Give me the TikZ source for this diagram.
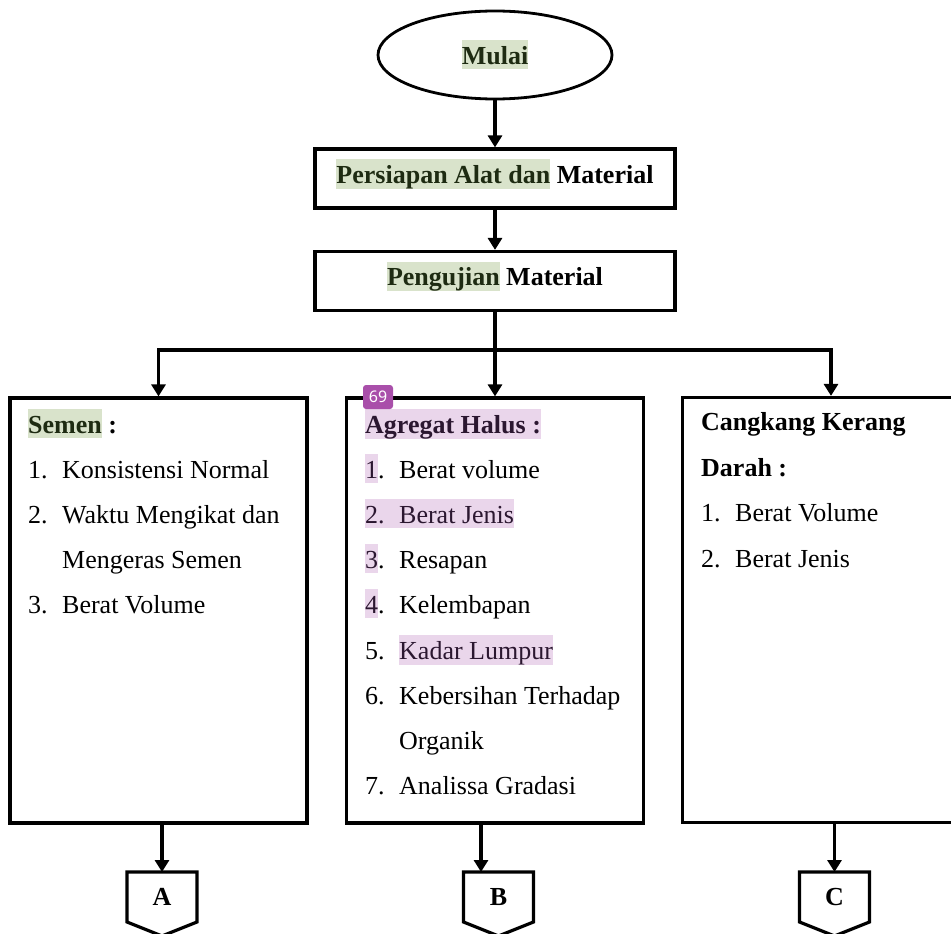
\documentclass[tikz,border=0pt]{standalone}
\usepackage{fontspec}
\setmainfont{Liberation Serif}
\newfontfamily\fontlencana{Noto Sans}
\usetikzlibrary{shapes.geometric,arrows.meta}

\definecolor{hijau}{HTML}{D9E3CB}
\definecolor{ungu}{HTML}{EAD6EB}
\definecolor{teksHijau}{HTML}{1E2B12}
\definecolor{teksUngu}{HTML}{2B1730}
\definecolor{lencana}{HTML}{A94FAA}

\newcommand{\sorothijau}[1]{{\setlength{\fboxsep}{0pt}\colorbox{hijau}{\rule[-5pt]{0pt}{29pt}\color{teksHijau}#1}}}
\newcommand{\sorotungu}[1]{{\setlength{\fboxsep}{0pt}\colorbox{ungu}{\rule[-5pt]{0pt}{29pt}\color{teksUngu}#1}}}
\newcommand{\butir}[1]{\makebox[34pt][l]{#1}}

\begin{document}
\begin{tikzpicture}[x=1pt,y=-1pt,font=\fontsize{26}{31}\selectfont,
  garis/.style={line width=3.2pt},
  panah/.style={garis,-{Triangle[width=14pt,length=12pt]}},
  kotak/.style={draw,garis,minimum width=360pt,minimum height=59pt,inner sep=0pt,text depth=15pt},
  isi/.style={draw,garis,minimum width=297pt,minimum height=425pt,inner sep=0pt},
  teks/.style={anchor=base west,inner sep=0pt},
  ke/.style={minimum width=70pt,minimum height=50pt,inner sep=0pt,outer sep=0pt,font=\fontsize{26}{31}\selectfont\bfseries}]
\useasboundingbox (0,0) rectangle (951,934);
\clip (0,0) rectangle (951,934);

% alur utama
\node[draw,ellipse,line width=2.8pt,minimum width=234pt,minimum height=88pt,inner sep=0pt] (mulai) at (495,55) {\sorothijau{\textbf{Mulai}}};
\node[kotak] (persiapan) at (495,178.5) {\textbf{\sorothijau{Persiapan Alat dan} Material}};
\node[kotak] (pengujian) at (495,281) {\textbf{\sorothijau{Pengujian} Material}};
\coordinate (cabang) at (495,350);

% tiga kotak pengujian
\node[isi] (semen) at (158.5,610.5) {};
\node[isi] (agregat) at (495,610.5) {};
\node[isi] (cangkang) at (831,610) {};

\draw[panah] (mulai) -- (persiapan);
\draw[panah] (persiapan) -- (pengujian);
\draw[panah] (pengujian) -- (agregat);
\draw[panah] (cabang) -| (semen);
\draw[panah] (cabang) -| (cangkang);

% isi semen
\node[teks] (semenJudul) at (28,433) {\textbf{\sorothijau{Semen} :}};
\node[teks] (semen1) at (28,478) {\butir{1.}Konsistensi Normal};
\node[teks] (semen2) at (28,523) {\butir{2.}Waktu Mengikat dan};
\node[teks] (semen2b) at (62,568) {Mengeras Semen};
\node[teks] (semen3) at (28,613) {\butir{3.}Berat Volume};

% isi agregat halus
\node[teks] (agregatJudul) at (365,433) {\sorotungu{\textbf{Agregat Halus :}}};
\node[teks] (agregat1) at (365,478) {\makebox[34pt][l]{\sorotungu{1}.}Berat volume};
\node[teks] (agregat2) at (365,523) {\sorotungu{\butir{2.}Berat Jenis}};
\node[teks] (agregat3) at (365,568) {\makebox[34pt][l]{\sorotungu{3}.}Resapan};
\node[teks] (agregat4) at (365,613) {\makebox[34pt][l]{\sorotungu{4}.}Kelembapan};
\node[teks] (agregat5) at (365,659) {\butir{5.}\sorotungu{Kadar Lumpur}};
\node[teks] (agregat6) at (365,704) {\butir{6.}Kebersihan Terhadap};
\node[teks] (agregat6b) at (399,749) {Organik};
\node[teks] (agregat7) at (365,794) {\butir{7.}Analissa Gradasi};
\node[fill=lencana,rounded corners=3pt,text=white,font=\fontlencana\fontsize{16}{16}\selectfont,minimum width=30pt,minimum height=24pt,inner sep=0pt] (nomor) at (378,397) {69};

% isi cangkang kerang
\node[teks] (cangkangJudul) at (701,430) {\textbf{Cangkang Kerang}};
\node[teks] (cangkangJudul2) at (701,476) {\textbf{Darah :}};
\node[teks] (cangkang1) at (701,521) {\butir{1.}Berat Volume};
\node[teks] (cangkang2) at (701,567) {\butir{2.}Berat Jenis};

% penghubung halaman
\node[ke] (keA) at (162,897) {A};
\node[ke] (keB) at (498.5,897) {B};
\node[ke] (keC) at (834.5,897) {C};
\draw[garis] (keA.north west) -- (keA.north east) -- (keA.south east) -- ([yshift=-14pt]keA.south) -- (keA.south west) -- cycle;
\draw[garis] (keB.north west) -- (keB.north east) -- (keB.south east) -- ([yshift=-14pt]keB.south) -- (keB.south west) -- cycle;
\draw[garis] (keC.north west) -- (keC.north east) -- (keC.south east) -- ([yshift=-14pt]keC.south) -- (keC.south west) -- cycle;
\draw[panah] (keA |- semen.south) -- (keA);
\draw[panah] ([xshift=-14pt]agregat.south) -- ([xshift=-17.5pt]keB.north);
\draw[panah] (keC |- cangkang.south) -- (keC);
\end{tikzpicture}
\end{document}
